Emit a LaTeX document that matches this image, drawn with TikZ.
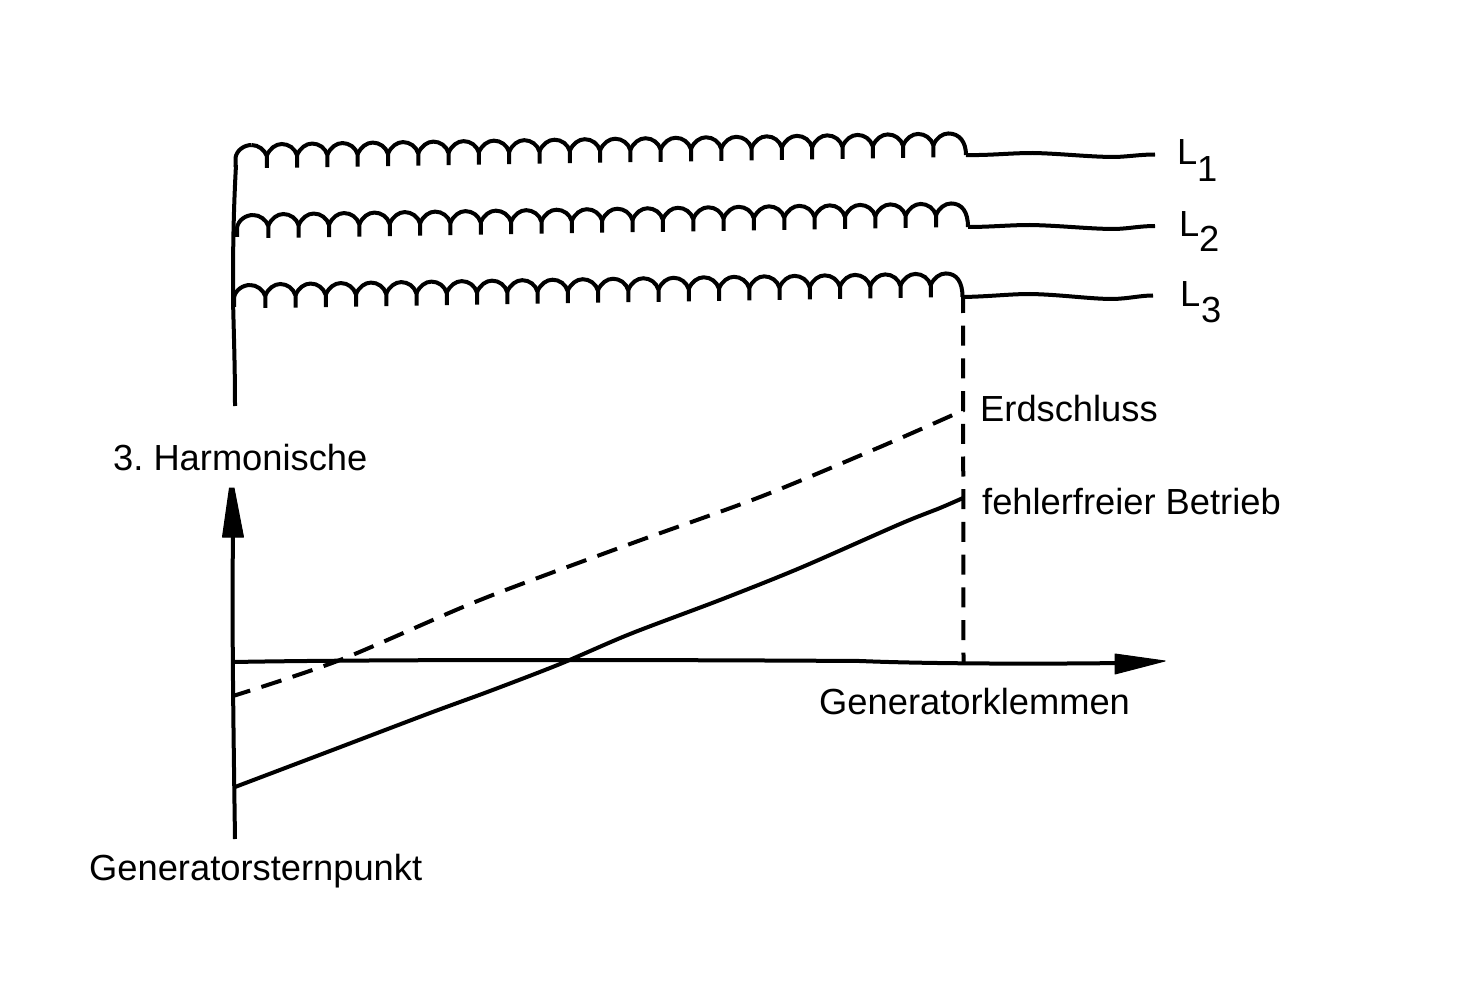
\documentclass[tikz,border=0pt]{standalone}
\usepackage{fontspec}
\setmainfont{Liberation Sans}
\frenchspacing
\newcommand{\coilrow}[5]{% x0, pitch, ybase, xend, yend
  \draw[wire] (#1-1,#3+12) -- (#1-1,#3+3) .. controls (#1,#3-5) and (#1+8,#3-10) .. (#1+15,#3-10);
  \draw[wire] (#1+15,#3-10) .. controls (#1+22,#3-10) and (#1+#2-2,#3-5) .. (#1+#2,#3+1) -- (#1+#2,#3+13);
  \foreach \i in {1,...,22}{
    \pgfmathsetmacro{\xa}{#1+\i*#2}
    \pgfmathsetmacro{\xb}{\xa+#2}
    \pgfmathsetmacro{\yy}{#3-0.48*\i}
    \draw[wire] (\xa,\yy+1) .. controls (\xa+3,\yy-6) and (\xa+9,\yy-10.5) .. (\xa+15,\yy-10.5)
       .. controls (\xa+22,\yy-10.5) and (\xb-2,\yy-6) .. (\xb,\yy+1) -- (\xb,\yy+13);
  }
  \pgfmathsetmacro{\xa}{#1+23*#2}
  \pgfmathsetmacro{\yy}{#3-0.48*23}
  \draw[wire] (\xa,\yy+1) .. controls (\xa+3,\yy-6) and (\xa+9,\yy-10.5) .. (\xa+15,\yy-10.5)
     .. controls (\xa+26,\yy-10.5) and (#4,\yy-2) .. (#4,#5);
}
\tikzset{
  x=1pt,y=-1pt,
  wire/.style={draw=black,line width=4pt},
  dashwire/.style={wire,dash pattern=on 21pt off 11.8pt,dash phase=3pt},
  vdash/.style={wire,dash pattern=on 20pt off 12.7pt,dash phase=4pt},
  tip/.style={fill=black,draw=black,line width=1pt,line join=round},
  lab/.style={inner sep=0pt,anchor=base west,font=\fontsize{36.3}{40}\selectfont},
}
\begin{document}
\begin{tikzpicture}
\useasboundingbox (0,0) rectangle (1480,981);
% labels
\node[lab] (l1) at (1177,165) {L};
\node[lab] (s1) at (1197,182) {1};
\node[lab] (l2) at (1179,237) {L};
\node[lab] (s2) at (1199,252) {2};
\node[lab] (l3) at (1180,307) {L};
\node[lab] (s3) at (1201,323) {3};
\node[lab] (erd) at (980,421) {Erdschluss};
\node[lab] (feh) at (982,514) {fehlerfreier Betrieb};
\node[lab] (har) at (113,470) {3. Harmonische};
\node[lab] (kle) at (819,714) {Generatorklemmen};
\node[lab] (ste) at (89,880) {Generatorsternpunkt};
% coordinates
\coordinate (e1) at (966,155);
\coordinate (e2) at (968,227);
\coordinate (e3) at (963,297);
\coordinate (w1) at (1155,154.5);
\coordinate (w2) at (1155,226);
\coordinate (w3) at (1153,295.5);
\coordinate (axb) at (963.5,664);
\coordinate (star) at (235,406);
\coordinate (startop) at (236,165);
% coils
\coilrow{236.5}{30.3}{155}{966}{155}
\coilrow{238}{30.35}{225}{968}{227}
\coilrow{235}{30.25}{295}{962.5}{297}
% wires
\draw[wire] (e1) .. controls (990,155.5) and (1010,153) .. (1033,153) .. controls (1060,153.5) and (1090,157) .. (1115,157) .. controls (1130,156.5) and (1140,154.5) .. (w1);
\draw[wire] (e2) .. controls (990,227) and (1010,225) .. (1030,225) .. controls (1060,225.5) and (1090,229) .. (1115,229) .. controls (1130,228.5) and (1140,226) .. (w2);
\draw[wire] (e3) .. controls (990,296.5) and (1010,294) .. (1030,294) .. controls (1060,294.5) and (1090,299) .. (1113,299) .. controls (1130,298.5) and (1140,295.5) .. (w3);
\draw[wire] (startop) .. controls (233,220) and (233,260) .. (233,300) .. controls (234,340) and (235,370) .. (star);
% axes
\coordinate (yb) at (235,839);
\coordinate (yt) at (233,530);
\draw[wire] (yb) .. controls (233,700) and (232,620) .. (yt);
\draw[tip] (229.5,488) -- (234,488) -- (243.5,537) -- (222.5,537) -- cycle;
\coordinate (x0) at (233,662);
\coordinate (xt) at (1120,663);
\draw[wire] (x0) .. controls (400,659) and (700,660) .. (860,661) .. controls (930,664) and (1050,664) .. (xt);
\draw[tip] (1115,654) -- (1165,661) -- (1115,674) -- cycle;
% curves
\draw[vdash] (e3) -- (axb);
\draw[dashwire] plot[smooth,tension=.5] coordinates {(233,696) (340,660) (480,600) (630,544) (760,497) (880,447) (964,410)};
\draw[wire] plot[smooth,tension=.5] coordinates {(235,787) (330,751) (430,713) (490,691) (560,664) (630,634) (720,600) (800,568) (900,524) (940,508) (963,498)};
\end{tikzpicture}
\end{document}
